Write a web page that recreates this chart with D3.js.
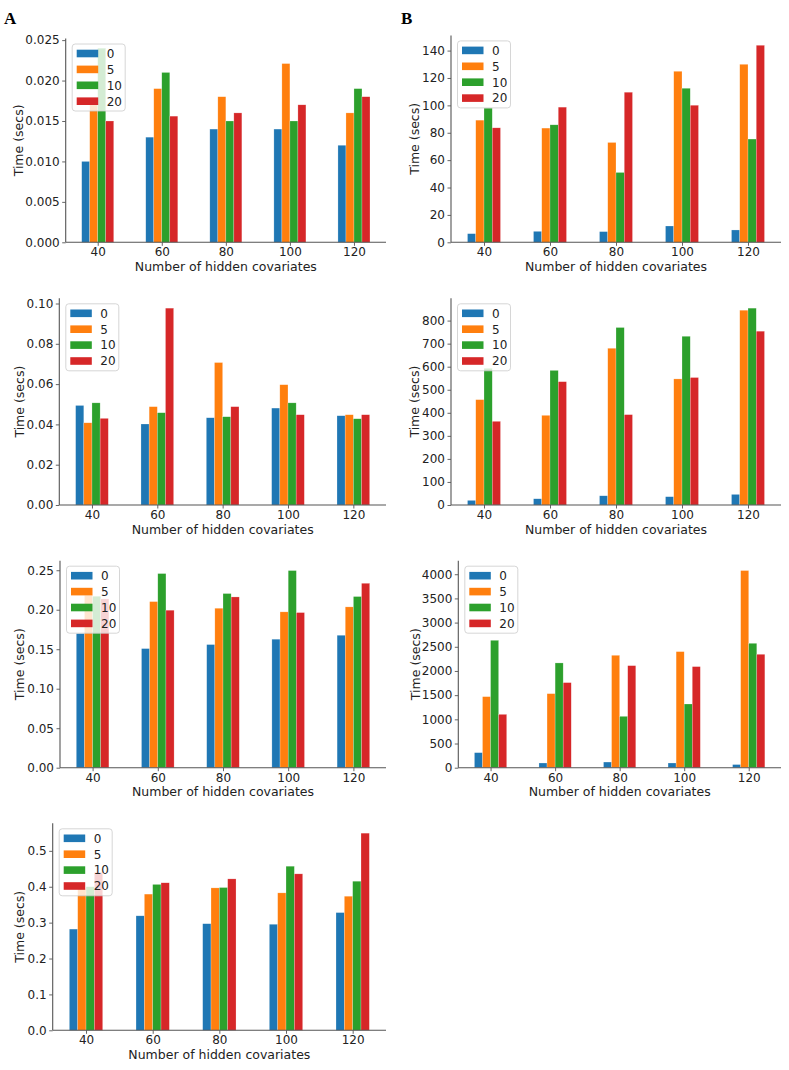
<!DOCTYPE html>
<html>
<head>
<meta charset="utf-8">
<script src="https://cdn.jsdelivr.net/npm/d3@7"></script>
<style>
  html, body { margin: 0; padding: 0; background: #fff; }
  svg { display: block; font-family: "DejaVu Sans", sans-serif; }
</style>
</head>
<body>
<svg id="chart" width="789" height="1070"></svg>
<script>
// ---------- data ----------
const categories = [40, 60, 80, 100, 120];
const seriesNames = ["0", "5", "10", "20"];
const seriesColors = ["#1f77b4", "#ff7f0e", "#2ca02c", "#d62728"];

// values per panel: one row per series (0, 5, 10, 20), one column per category
const valuesA1 = [
  [0.0100, 0.0130, 0.0140, 0.0140, 0.0120],
  [0.0173, 0.0190, 0.0180, 0.0221, 0.0160],
  [0.0240, 0.0210, 0.0150, 0.0150, 0.0190],
  [0.0150, 0.0156, 0.0160, 0.0170, 0.0180]
];
const valuesB1 = [
  [6.3, 8.0, 7.8, 11.9, 9.0],
  [89.2, 83.4, 72.9, 124.9, 130.0],
  [98.0, 85.8, 51.0, 112.5, 75.4],
  [83.6, 98.7, 109.6, 100.1, 143.9]
];
const valuesA2 = [
  [0.0494, 0.0402, 0.0433, 0.0481, 0.0443],
  [0.0408, 0.0488, 0.0707, 0.0597, 0.0448],
  [0.0507, 0.0458, 0.0438, 0.0507, 0.0428],
  [0.0430, 0.0977, 0.0488, 0.0448, 0.0448]
];
const valuesB2 = [
  [20, 27, 40, 36, 46],
  [457, 389, 680, 547, 845],
  [593, 584, 770, 732, 854],
  [363, 535, 392, 553, 754]
];
const valuesA3 = [
  [0.1700, 0.1508, 0.1559, 0.1627, 0.1677],
  [0.2184, 0.2103, 0.2019, 0.1973, 0.2036],
  [0.2171, 0.2458, 0.2205, 0.2496, 0.2167],
  [0.2137, 0.1994, 0.2162, 0.1964, 0.2335]
];
const valuesB3 = [
  [311, 97, 117, 97, 65],
  [1469, 1531, 2324, 2400, 4076],
  [2634, 2166, 1062, 1317, 2572],
  [1103, 1759, 2110, 2090, 2345]
];
const valuesA4 = [
  [0.282, 0.319, 0.297, 0.2955, 0.328],
  [0.395, 0.3795, 0.3968, 0.3829, 0.3736],
  [0.400, 0.4065, 0.3978, 0.4572, 0.4154],
  [0.440, 0.411, 0.4219, 0.4359, 0.5493]
];

// tick values per panel
const ticksA1 = [0, 0.005, 0.010, 0.015, 0.020, 0.025];
const ticksB1 = [0, 20, 40, 60, 80, 100, 120, 140];
const ticksA2 = [0, 0.02, 0.04, 0.06, 0.08, 0.10];
const ticksB2 = [0, 100, 200, 300, 400, 500, 600, 700, 800];
const ticksA3 = [0, 0.05, 0.10, 0.15, 0.20, 0.25];
const ticksB3 = [0, 500, 1000, 1500, 2000, 2500, 3000, 3500, 4000];
const ticksA4 = [0, 0.1, 0.2, 0.3, 0.4, 0.5];

const xLabel = "Number of hidden covariates";
const yLabel = "Time (secs)";

// ---------- layout ----------
const panels = [
  { values: valuesA1, ticks: ticksA1, fmt: ".3f", left: 65.7, right: 386, top: 38.5, bottom: 242.3, ylabX: 22.5 },
  { values: valuesB1, ticks: ticksB1, fmt: "d",   left: 451,  right: 781, top: 35.4, bottom: 242.3, ylabX: 418.5 },
  { values: valuesA2, ticks: ticksA2, fmt: ".2f", left: 59.3, right: 386, top: 298.3, bottom: 505, ylabX: 23.5 },
  { values: valuesB2, ticks: ticksB2, fmt: "d",   left: 451,  right: 781, top: 298.3, bottom: 505, ylabX: 418.5 },
  { values: valuesA3, ticks: ticksA3, fmt: ".2f", left: 60,   right: 386, top: 560.7, bottom: 767.7, ylabX: 23.5 },
  { values: valuesB3, ticks: ticksB3, fmt: "d",   left: 458.3,right: 781, top: 560.7, bottom: 767.7, ylabX: 419.5 },
  { values: valuesA4, ticks: ticksA4, fmt: ".1f", left: 52.7, right: 386, top: 823.3, bottom: 1030.3, ylabX: 23.5 }
];

const svg = d3.select("#chart");
const axisColor = "#555";
const textColor = "#222";
const barFrac = 0.125;

panels.forEach(p => {
  const g = svg.append("g");
  const x = d3.scaleLinear().domain([-0.5, categories.length - 0.5]).range([p.left, p.right]);
  const ymax = d3.max(p.values.flat()) * 1.05;
  const y = d3.scaleLinear().domain([0, ymax]).range([p.bottom, p.top]);

  // bars
  p.values.forEach((row, j) => {
    g.append("g").selectAll("rect").data(row).join("rect")
      .attr("x", (d, i) => x(i - 0.25 + j * barFrac))
      .attr("width", x(barFrac) - x(0))
      .attr("y", d => y(d))
      .attr("height", d => y(0) - y(d))
      .attr("fill", seriesColors[j])
      .attr("stroke", "rgba(255,255,255,0.45)")
      .attr("stroke-width", 0.5);
  });

  // y axis
  const yAxis = d3.axisLeft(y).tickValues(p.ticks).tickFormat(d3.format(p.fmt)).tickSize(3.5).tickPadding(2.5).tickSizeOuter(0);
  const ya = g.append("g").attr("transform", `translate(${p.left},0)`).call(yAxis);
  ya.select(".domain").remove();
  g.append("line").attr("x1", p.left).attr("x2", p.left).attr("y1", p.top).attr("y2", p.bottom)
    .attr("stroke", axisColor).attr("stroke-width", 1.1);
  ya.selectAll(".tick line").attr("stroke", axisColor).attr("stroke-width", 0.9);
  ya.selectAll(".tick text").attr("fill", textColor).style("font-size", "12px").style("font-family", "DejaVu Sans");

  // x axis
  const xAxis = d3.axisBottom(x).tickValues(d3.range(categories.length)).tickFormat(i => categories[i]).tickSize(3.5).tickPadding(2).tickSizeOuter(0);
  const xa = g.append("g").attr("transform", `translate(0,${p.bottom})`).call(xAxis);
  xa.select(".domain").remove();
  g.append("line").attr("x1", p.left).attr("x2", p.right).attr("y1", p.bottom).attr("y2", p.bottom)
    .attr("stroke", axisColor).attr("stroke-width", 1.1);
  xa.selectAll(".tick line").attr("stroke", axisColor).attr("stroke-width", 0.9);
  xa.selectAll(".tick text").attr("fill", textColor).style("font-size", "12px").style("font-family", "DejaVu Sans");

  // axis labels
  g.append("text").attr("x", (p.left + p.right) / 2).attr("y", p.bottom + 28.5)
    .attr("text-anchor", "middle").attr("fill", textColor).style("font-size", "12.5px").text(xLabel);
  g.append("text").attr("transform", `translate(${p.ylabX},${(p.top + p.bottom) / 2}) rotate(-90)`)
    .attr("text-anchor", "middle").attr("fill", textColor).style("font-size", "12.5px").text(yLabel);

  // legend
  const lx = p.left + 6.5, ly = p.top + 5.5;
  const lg = g.append("g").attr("transform", `translate(${lx},${ly})`);
  lg.append("rect").attr("width", 53).attr("height", 67).attr("rx", 3)
    .attr("fill", "white").attr("fill-opacity", 0.8).attr("stroke", "#cccccc").attr("stroke-width", 0.8);
  seriesNames.forEach((s, k) => {
    const cy = 9.5 + k * 15.9;
    lg.append("rect").attr("x", 4.5).attr("y", cy - 3.8).attr("width", 21.5).attr("height", 7.6)
      .attr("fill", seriesColors[k]);
    lg.append("text").attr("x", 34.5).attr("y", cy).attr("dy", "0.36em")
      .attr("fill", textColor).style("font-size", "12px").text(s);
  });
});

// panel letters
svg.append("text").attr("x", 4).attr("y", 24).style("font-family", "Liberation Serif, Times New Roman, serif")
  .style("font-weight", "bold").style("font-size", "17px").attr("fill", "#000").text("A");
svg.append("text").attr("x", 401).attr("y", 24).style("font-family", "Liberation Serif, Times New Roman, serif")
  .style("font-weight", "bold").style("font-size", "17px").attr("fill", "#000").text("B");
</script>
</body>
</html>
